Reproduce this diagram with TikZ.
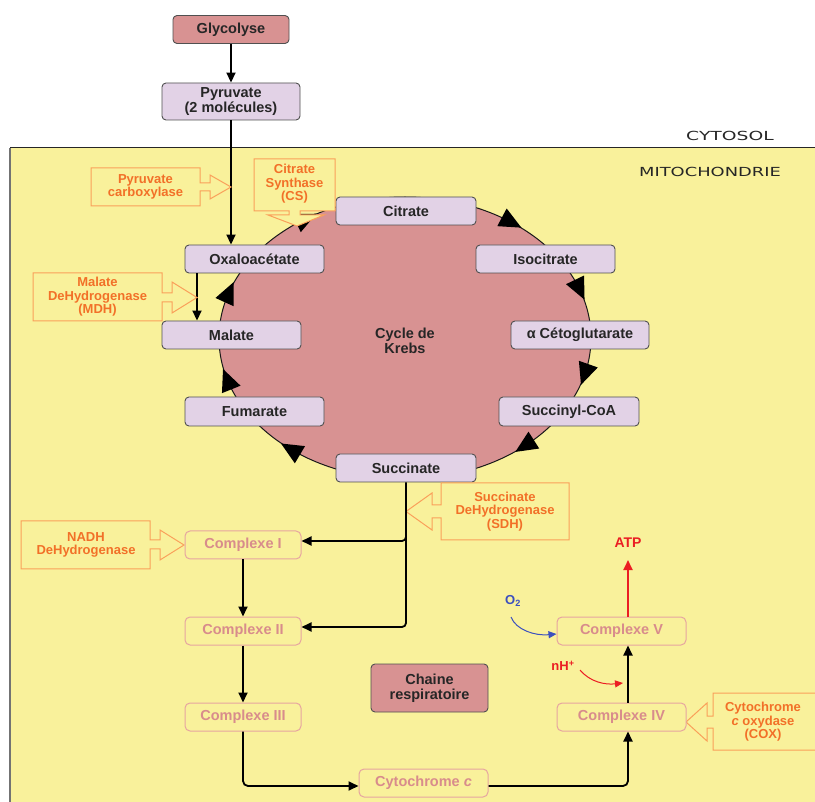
\documentclass[tikz,border=0pt]{standalone}
\usepackage{fontspec}
\usepackage{graphicx}
\setmainfont{Liberation Sans}
\newfontfamily\comicf{DejaVu Sans}
\usetikzlibrary{arrows.meta}
\definecolor{bgyel}{RGB}{249,241,155}
\definecolor{lav}{RGB}{226,210,230}
\definecolor{rose}{RGB}{216,146,146}
\definecolor{ortext}{RGB}{242,112,40}
\definecolor{orline}{RGB}{250,160,90}
\definecolor{cpline}{RGB}{230,165,160}
\definecolor{cptext}{RGB}{216,140,140}
\definecolor{boxline}{RGB}{80,80,80}
\definecolor{atpred}{RGB}{235,30,35}
\definecolor{o2blue}{RGB}{60,80,190}
\newcommand\krebsarrow[1]{%
  \begin{scope}[shift={({405+186*cos(#1)},{338+141*sin(#1)})}, rotate={atan2(-141*cos(#1),-186*sin(#1))}]
    \fill[black] (11,0) -- (-11,10) -- (-11,-10) -- cycle;
  \end{scope}}
\begin{document}
\begin{tikzpicture}[x=1pt,y=-1pt,
 lbox/.style={draw=boxline, fill=lav, rounded corners=4pt, line width=0.9pt, inner sep=0pt,
   font=\fontsize{14.5}{15}\selectfont\bfseries, text=black!85, align=center},
 rbox/.style={lbox, fill=rose},
 cbox/.style={draw=cpline, fill=bgyel, rounded corners=5pt, line width=1pt, inner sep=0pt,
   font=\fontsize{14.5}{15}\selectfont\bfseries, text=cptext, minimum height=28pt},
 enz/.style={font=\fontsize{13}{13.5}\selectfont\bfseries, text=ortext, align=center, inner sep=0pt},
 encall/.style={draw=orline, line width=1pt, fill=bgyel, line join=miter},
 conn/.style={line width=1.8pt, -{Triangle[length=10pt,width=9pt]}},
 zone/.style={font=\comicf\fontsize{12.5}{13}\selectfont, text=black!85, inner sep=0pt}]
\useasboundingbox (0,0) rectangle (815,802);
\fill[white] (0,0) rectangle (815,802);
\fill[bgyel] (10,148) rectangle (815,802);
\draw[black!55, line width=1.2pt] (10,802) -- (10,148);
\draw[black!85, line width=1pt] (10,148) -- (815,148);
\node[zone] (cyto) at (730,136) {\scalebox{1.5}[1]{CYTOSOL}};
\node[zone] (mito) at (710,172) {\scalebox{1.43}[1]{MITOCHONDRIE}};

% Krebs cycle
\filldraw[fill=rose, draw=black!90, line width=1pt] (405,338) ellipse [x radius=186pt, y radius=141pt];
\foreach \t in {305,340,15,50,128,163,199,238} {\krebsarrow{\t}}
\node[font=\fontsize{14.5}{15}\selectfont\bfseries, text=black!85, align=center] (krebs) at (405,341) {Cycle de\\Krebs};

% top boxes
\node[rbox, minimum width=116pt, minimum height=28pt] (glyc) at (231,29.5) {Glycolyse};
\node[lbox, minimum width=138pt, minimum height=37pt] (pyr) at (231,101.5) {Pyruvate\\(2 molécules)};

\node[lbox, minimum width=140pt, minimum height=28pt] (citrate) at (406,211) {Citrate};
\node[lbox, minimum width=139pt, minimum height=28pt] (isocit) at (545.5,259) {Isocitrate};
\node[lbox, minimum width=138pt, minimum height=28pt] (aceto) at (580,335) {α Cétoglutarate};
\node[lbox, minimum width=140pt, minimum height=29pt] (succoa) at (569,411.5) {Succinyl-CoA};
\node[lbox, minimum width=140pt, minimum height=28pt] (succ) at (406,468) {Succinate};
\node[lbox, minimum width=139pt, minimum height=29pt] (fum) at (254.5,411.5) {Fumarate};
\node[lbox, minimum width=139pt, minimum height=28pt] (malate) at (231.5,335) {Malate};
\node[lbox, minimum width=139pt, minimum height=28pt] (oxa) at (254.5,259) {Oxaloacétate};

% connectors top
\draw[conn] (glyc) -- (pyr);
\draw[conn] (pyr.south) -- (pyr.south |- oxa.north);
\coordinate (om) at (197,0);
\draw[conn] (oxa.south -| om) -- (malate.north -| om);

% enzyme callouts
\draw[encall] (91,168) -- (200,168) -- (200,183) -- (210,183) -- (210,175) -- (231,187)
  -- (210,199) -- (210,191) -- (200,191) -- (200,206) -- (91,206) -- cycle;
\node[enz] (pc) at (145.5,187) {Pyruvate\\carboxylase};

\draw[encall] (254,159) -- (335,159) -- (335,211) -- (300,211) -- (300,215) -- (324,215) -- (297,226)
  -- (268,215) -- (289,215) -- (289,211) -- (254,211) -- cycle;
\node[enz] (cs) at (294.5,184) {Citrate\\Synthase\\(CS)};

\draw[encall] (33,273) -- (162,273) -- (162,293) -- (172,293) -- (172,282) -- (197,297.5)
  -- (172,313) -- (172,302) -- (162,302) -- (162,321) -- (33,321) -- cycle;
\node[enz] (mdh) at (97.5,297) {Malate\\DeHydrogenase\\(MDH)};

\draw[encall] (569,483) -- (441,483) -- (441,505) -- (432,505) -- (432,493) -- (406,511.5)
  -- (432,530) -- (432,518) -- (441,518) -- (441,540) -- (569,540) -- cycle;
\node[enz] (sdh) at (505,511.5) {Succinate\\DeHydrogenase\\(SDH)};

\draw[encall] (21,521) -- (150,521) -- (150,540) -- (160,540) -- (160,530) -- (184,545)
  -- (160,560) -- (160,549) -- (150,549) -- (150,569) -- (21,569) -- cycle;
\node[enz] (nadh) at (86,545) {NADH\\DeHydrogenase};

\draw[encall] (816,693) -- (713,693) -- (713,716) -- (707,716) -- (707,703) -- (686,722)
  -- (707,741) -- (707,728) -- (713,728) -- (713,750) -- (816,750) -- cycle;
\node[enz] (cox) at (763,722) {Cytochrome\\\textit{c} oxydase\\(COX)};

% respiratory chain
\node[cbox, minimum width=116pt] (c1) at (243,545) {Complexe I};
\node[cbox, minimum width=116pt] (c2) at (243,631) {Complexe II};
\node[cbox, minimum width=116pt] (c3) at (243,717) {Complexe III};
\node[cbox, minimum width=129pt] (cytc) at (423.5,783) {Cytochrome \textit{c}};
\node[cbox, minimum width=129pt] (c4) at (621.5,717) {Complexe IV};
\node[cbox, minimum width=129pt] (c5) at (621.5,631) {Complexe V};
\node[rbox, minimum width=117pt, minimum height=48pt] (chaine) at (429.5,688) {Chaine\\respiratoire};

\coordinate (sx) at (406,0);
\coordinate (c1in) at ([yshift=4pt]c1.east);
\coordinate (c2in) at ([yshift=4pt]c2.east);
\draw[conn, rounded corners=4pt] (succ.south -| sx) |- (c2in);
\draw[conn, rounded corners=4pt] (sx |- 0,535) |- (c1in);
\draw[conn] (c1) -- (c2);
\draw[conn] (c2) -- (c3);
\coordinate (cyin) at ([yshift=-3pt]cytc.west);
\coordinate (cyout) at ([yshift=-3pt]cytc.east);
\draw[conn, rounded corners=5pt] (c3.south) |- (cyin);
\coordinate (vx) at (628,0);
\draw[conn, rounded corners=5pt] (cyout) -| (c4.south -| vx);
\draw[conn] (c4.north -| vx) -- (c5.south -| vx);

\node[font=\fontsize{14}{14}\selectfont\bfseries, text=atpred, inner sep=0pt] (atp) at (628,543) {ATP};
\draw[line width=1.8pt, atpred, -{Triangle[length=10pt,width=9pt]}] (c5.north -| vx) -- ([yshift=-12pt]atp.south);

\node[font=\fontsize{13}{13}\selectfont\bfseries, text=o2blue, inner sep=0pt] (o2) at (513,601) {O\textsubscript{2}};
\coordinate (o2s) at (511,617);
\draw[o2blue, line width=1pt, -{Triangle[length=8pt,width=7pt]}] (o2s) .. controls (516,630) and (535,636) .. ([yshift=-3pt]c5.west);

\node[font=\fontsize{13}{13}\selectfont\bfseries, text=atpred, inner sep=0pt] (nh) at (563,666) {nH\textsuperscript{+}};
\coordinate (nhs) at (580,670);
\coordinate (nhe) at (623,683);
\draw[atpred, line width=1pt, -{Triangle[length=8pt,width=7pt]}] (nhs) .. controls (590,682) and (605,685) .. (nhe);
\end{tikzpicture}
\end{document}
